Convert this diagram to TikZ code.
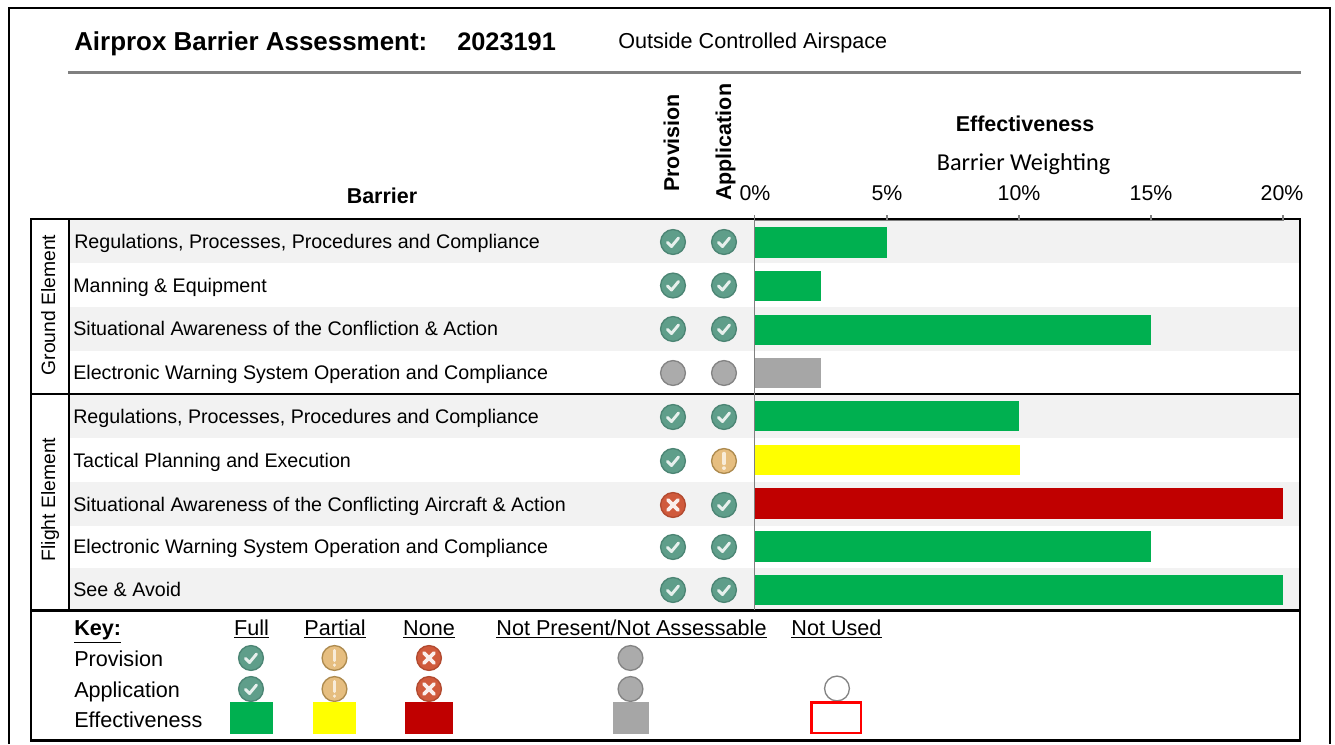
\documentclass[tikz,border=0pt]{standalone}
\usepackage{fontspec}
\setmainfont{Liberation Sans}
\newfontfamily\carlitofont{Carlito}
\usetikzlibrary{calc}
\definecolor{barGreen}{HTML}{00B050}
\definecolor{barYellow}{HTML}{FFFF00}
\definecolor{barRed}{HTML}{C00000}
\definecolor{barGray}{HTML}{A6A6A6}
\definecolor{band}{HTML}{F2F2F2}
\definecolor{ruleGray}{HTML}{808080}
\definecolor{okFill}{HTML}{5F9E8A}
\definecolor{okRim}{HTML}{4C8574}
\definecolor{warnFill}{HTML}{E6BE80}
\definecolor{warnRim}{HTML}{AD8A4E}
\definecolor{badFill}{HTML}{D05A3C}
\definecolor{badRim}{HTML}{B24A30}
\definecolor{naFill}{HTML}{ABABAB}
\definecolor{naRim}{HTML}{848484}
\tikzset{
  iconbase/.style={circle,minimum size=18.6pt,inner sep=0pt,line width=1pt},
  okicon/.style={iconbase,draw=okRim,fill=okFill,path picture={
    \draw[white!85!okFill,line width=2.2pt,line cap=round,line join=round,shift={(path picture bounding box.center)}]
      (-5.5,0.5)--(-1.5,4.5)--(5.5,-4);}},
  warnicon/.style={iconbase,draw=warnRim,fill=warnFill,path picture={
    \draw[white!70!warnFill,line width=2.6pt,line cap=round,shift={(path picture bounding box.center)}]
      (0,-7.5)--(0,2.5) (0,7)--(0,7.2);}},
  badicon/.style={iconbase,draw=badRim,fill=badFill,path picture={
    \draw[white!90!badFill,line width=2.8pt,line cap=round,shift={(path picture bounding box.center)}]
      (-5,-5)--(5,5) (-5,5)--(5,-5);}},
  naicon/.style={iconbase,draw=naRim,fill=naFill},
  unusedicon/.style={iconbase,draw=naRim,fill=white},
  rowtext/.style={anchor=base west,font=\fontsize{14.75pt}{16pt}\selectfont,inner sep=0pt},
  keytext/.style={anchor=base west,font=\fontsize{16.2pt}{18pt}\selectfont,inner sep=0pt},
  keyhead/.style={anchor=base,font=\fontsize{16.2pt}{18pt}\selectfont,inner sep=0pt},
  ticktext/.style={anchor=base,font=\fontsize{16pt}{18pt}\selectfont,inner sep=0pt},
  headtext/.style={anchor=base,font=\fontsize{16.1pt}{18pt}\selectfont\bfseries,inner sep=0pt},
  vhead/.style={anchor=base west,rotate=90,font=\fontsize{16.1pt}{18pt}\selectfont\bfseries,inner sep=0pt},
  sidetext/.style={anchor=base,rotate=90,font=\fontsize{14.5pt}{16pt}\selectfont,inner sep=0pt},
  titletext/.style={anchor=base west,font=\fontsize{19.45pt}{22pt}\selectfont\bfseries,inner sep=0pt},
  numtext/.style={anchor=base west,font=\fontsize{19pt}{22pt}\selectfont\bfseries,inner sep=0pt},
  frameline/.style={black,line width=1.6pt},
  axisline/.style={ruleGray,line width=0.9pt}
}
\begin{document}
\begin{tikzpicture}[x=0.75pt,y=-0.75pt]
\useasboundingbox (0,0) rectangle (1335,744);
\fill[white] (0,0) rectangle (1335,744);
% bands
\foreach \a/\b in {219/263,307/351,394/438,482/526,568/610}
  \fill[band] (69,\a) rectangle (1300,\b);
% bars
\fill[barGreen] (755,227) rectangle (887,258);
\fill[barGreen] (755,271) rectangle (821,301);
\fill[barGreen] (755,315) rectangle (1151,345);
\fill[barGray]  (755,358) rectangle (821,388);
\fill[barGreen] (755,401) rectangle (1019,431);
\fill[barYellow](755,445) rectangle (1020,475);
\fill[barRed]   (755,488) rectangle (1283,519);
\fill[barGreen] (755,531) rectangle (1151,562);
\fill[barGreen] (755,575) rectangle (1283,605);
% frames
\draw[black,line width=1.9pt] (9,744)--(9,8)--(1330,8)--(1330,744);
\draw[frameline] (31,219) rectangle (1300,740.5);
\draw[frameline] (69,219)--(69,610);
\draw[frameline] (31,394)--(1300,394);
\draw[frameline] (31,610.5)--(1300,610.5);
% axis
\draw[axisline] (754.5,215)--(754.5,610);
\draw[axisline] (754.5,220.8)--(1283,220.8);
\foreach \t in {887,1019,1151,1283} \draw[axisline] (\t,215)--(\t,220.8);
% header
\draw[ruleGray,line width=2.4pt] (68,72.5)--(1301,72.5);
\node[titletext] (title) at (74,50) {Airprox Barrier Assessment:};
\node[numtext] (num) at (457,50) {2023191};
\node[keytext] (airspace) at (618,48.5) {Outside Controlled Airspace};
\node[vhead] (hprov) at (679,192) {Provision};
\node[vhead] (happ) at (731,201) {Application};
\node[headtext] (hbar) at (382,203.5) {Barrier};
\node[headtext] (heff) at (1025,131.5) {Effectiveness};
\node[anchor=base,inner sep=0pt,font=\fontsize{18.2pt}{20pt}\selectfont\carlitofont] (hweight) at (1023.5,170) {Barrier Weighting};
\node[ticktext] (t0) at (755,200.5) {0\%};
\node[ticktext] (t5) at (887,200.5) {5\%};
\node[ticktext] (t10) at (1019,200.5) {10\%};
\node[ticktext] (t15) at (1151,200.5) {15\%};
\node[ticktext] (t20) at (1282,200.5) {20\%};
% side labels
\node[sidetext] (ground) at (55,305) {Ground Element};
\node[sidetext] (flight) at (55,499.5) {Flight Element};
% rows
\node[rowtext] (r1) at (74,248) {Regulations, Processes, Procedures and Compliance};
\node[rowtext] (r2) at (73,292) {Manning \& Equipment};
\node[rowtext] (r3) at (73,335.5) {Situational Awareness of the Confliction \& Action};
\node[rowtext] (r4) at (73,379) {Electronic Warning System Operation and Compliance};
\node[rowtext] (r5) at (73,423) {Regulations, Processes, Procedures and Compliance};
\node[rowtext] (r6) at (73,467) {Tactical Planning and Execution};
\node[rowtext] (r7) at (73,511) {Situational Awareness of the Conflicting Aircraft \& Action};
\node[rowtext] (r8) at (73,553.5) {Electronic Warning System Operation and Compliance};
\node[rowtext] (r9) at (73,596) {See \& Avoid};
% icons
\node[okicon] (p1) at (673,242) {};   \node[okicon] (a1) at (724,242) {};
\node[okicon] (p2) at (673,285.5) {}; \node[okicon] (a2) at (724,285.5) {};
\node[okicon] (p3) at (673,329) {};   \node[okicon] (a3) at (724,329) {};
\node[naicon] (p4) at (673,373) {};   \node[naicon] (a4) at (724,373) {};
\node[okicon] (p5) at (673,417) {};   \node[okicon] (a5) at (724,417) {};
\node[okicon] (p6) at (673,461) {};   \node[warnicon] (a6) at (724,461) {};
\node[badicon] (p7) at (673,505) {};  \node[okicon] (a7) at (724,505) {};
\node[okicon] (p8) at (673,547) {};   \node[okicon] (a8) at (724,547) {};
\node[okicon] (p9) at (673,590) {};   \node[okicon] (a9) at (724,590) {};
% key
\node[keytext,font=\fontsize{16.2pt}{18pt}\selectfont\bfseries] (key) at (74,635.5) {\underline{Key:}};
\node[keyhead] (kfull) at (251.5,635.5) {\underline{Full}};
\node[keyhead] (kpart) at (335,635.5) {\underline{Partial}};
\node[keyhead] (knone) at (429,635.5) {\underline{None}};
\node[keyhead] (kna) at (631.5,635.5) {\underline{Not Present/Not Assessable}};
\node[keyhead] (kuse) at (836.5,635.5) {\underline{Not Used}};
\node[keytext] (kprov) at (74,666.5) {Provision};
\node[keytext] (kapp) at (74,697) {Application};
\node[keytext] (keff) at (74,727.5) {Effectiveness};
\node[okicon] (k1) at (251,658) {};   \node[okicon] (k2) at (251,689) {};
\node[warnicon] (k3) at (334.5,658) {}; \node[warnicon] (k4) at (334.5,689) {};
\node[badicon] (k5) at (429,658) {};  \node[badicon] (k6) at (429,689) {};
\node[naicon] (k7) at (630.5,658) {}; \node[naicon] (k8) at (630.5,689) {};
\node[unusedicon] (k9) at (837,688.5) {};
\fill[barGreen] (230,702) rectangle (273,734);
\fill[barYellow] (313,702) rectangle (356,734);
\fill[barRed] (405,702) rectangle (453,734);
\fill[barGray] (613,702) rectangle (649,734);
\draw[red,line width=1.6pt] (811.5,702.5) rectangle (861,733);
\end{tikzpicture}
\end{document}
